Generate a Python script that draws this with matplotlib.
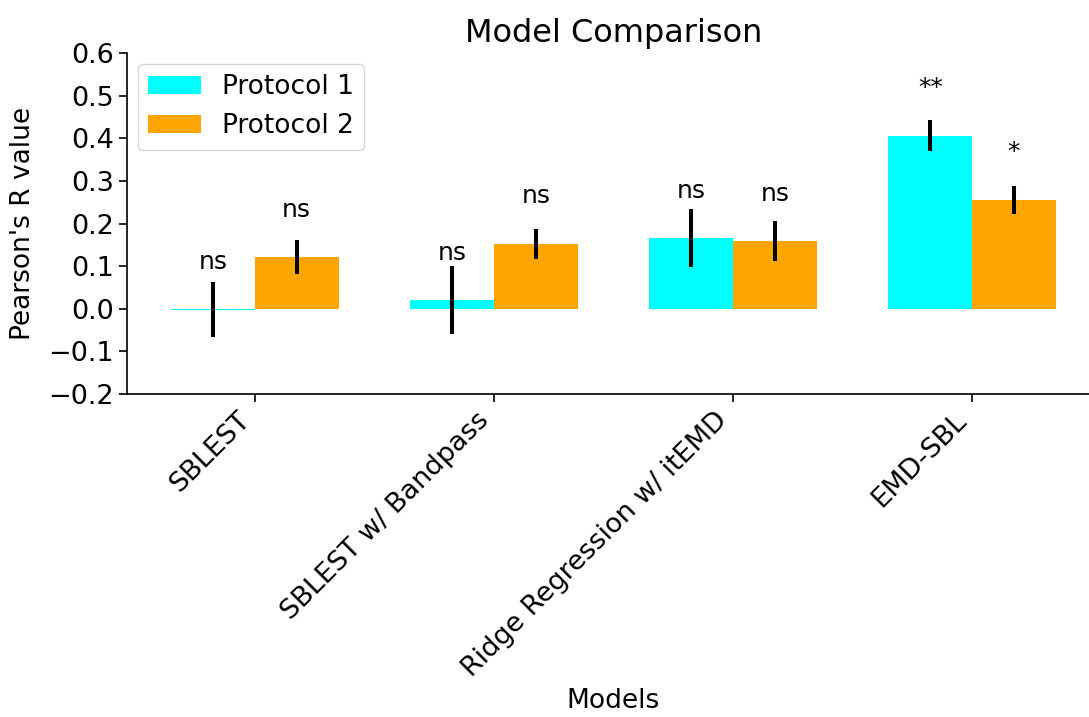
import matplotlib.pyplot as plt
import numpy as np

# Dane
models = ['SBLEST', 'SBLEST w/ Bandpass', 'Ridge Regression w/ itEMD', 'EMD-SBL']
p1_mean = [-0.002, 0.020, 0.166, 0.406]
p1_err = [0.065, 0.080, 0.067, 0.036]
p2_mean = [0.121, 0.152, 0.159, 0.256]
p2_err = [0.040, 0.036, 0.047, 0.033]
p1_sig = ['ns', 'ns', 'ns', '**']
p2_sig = ['ns', 'ns', 'ns', '*']

x = np.arange(len(models))
width = 0.35

fig = plt.figure(figsize=(10.89, 7.17), dpi=100)
# os wychodzi troche poza prawa krawedz, tak jak w oryginale
ax = fig.add_axes([0.1166, 0.4505, 0.8935, 0.4755])

ax.bar(x - width / 2, p1_mean, width, yerr=p1_err, color='cyan', label='Protocol 1',
       error_kw=dict(ecolor='black', elinewidth=2.9, capsize=0))
ax.bar(x + width / 2, p2_mean, width, yerr=p2_err, color='orange', label='Protocol 2',
       error_kw=dict(ecolor='black', elinewidth=2.9, capsize=0))

# Oznaczenia istotnosci nad slupkami
for i in range(len(models)):
    ax.text(x[i] - width / 2, p1_mean[i] + 0.095, p1_sig[i], ha='center', va='baseline', fontsize=18)
    ax.text(x[i] + width / 2, p2_mean[i] + 0.095, p2_sig[i], ha='center', va='baseline', fontsize=18)

ax.set_xlim(-0.535, 3.535)
ax.set_ylim(-0.2, 0.6)
ax.set_yticks(np.arange(-0.2, 0.61, 0.1))
ax.set_xticks(x)
ax.set_xticklabels(models, rotation=45, ha='right', fontsize=19.5)
ax.tick_params(axis='y', labelsize=19.5)
ax.tick_params(axis='both', length=6, width=1.2)
ax.spines['top'].set_visible(False)
ax.spines['right'].set_visible(False)
ax.spines['left'].set_linewidth(1.2)
ax.spines['bottom'].set_linewidth(1.2)

ax.set_title('Model Comparison', fontsize=23, pad=8)
ax.set_xlabel('Models', fontsize=19)
ax.set_ylabel("Pearson's R value", fontsize=19, labelpad=9)
ax.legend(loc='upper left', fontsize=19, borderaxespad=0.4)

plt.savefig('out.png', dpi=100)
plt.close()
